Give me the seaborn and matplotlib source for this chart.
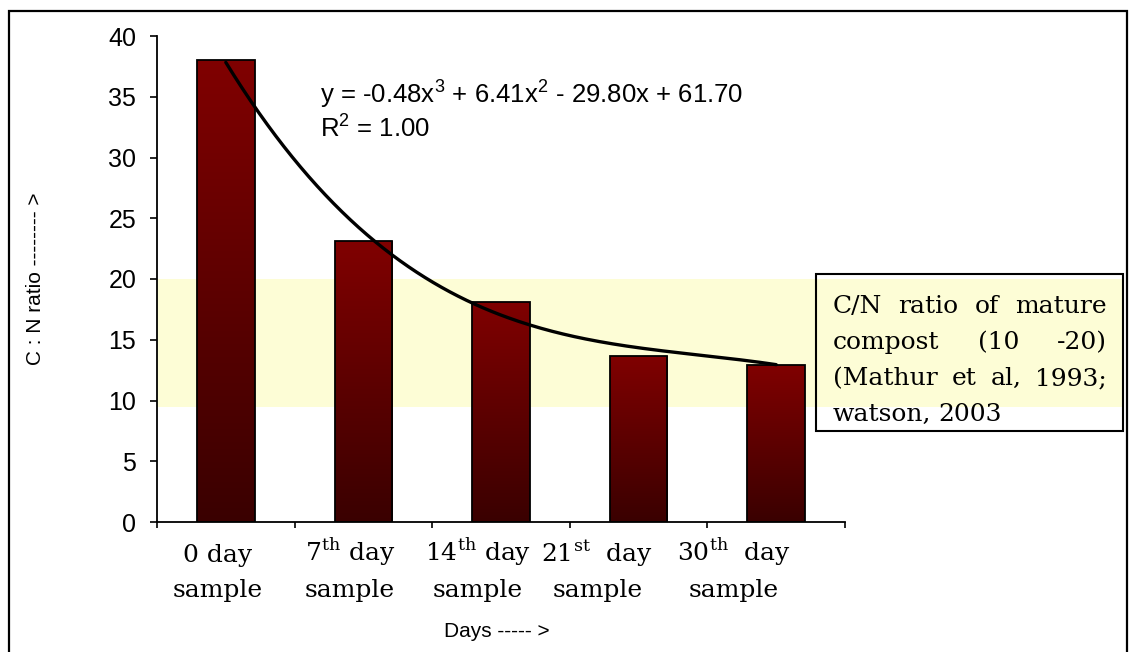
import numpy as np
import pandas as pd
import matplotlib
matplotlib.use("Agg")
import matplotlib.pyplot as plt
import matplotlib.transforms as mtransforms
import seaborn as sns
from matplotlib.patches import Rectangle

# data
days = ["0 day", "7th day", "14th day", "21st day", "30th day"]
label_top = ["0 day",
             "7$^{\\mathdefault{th}}$ day",
             "14$^{\\mathdefault{th}}$ day",
             "21$^{\\mathdefault{st}}$  day",
             "30$^{\\mathdefault{th}}$  day"]
label_bottom = ["sample"] * 5
cn_ratio = [38.0, 23.1, 18.1, 13.7, 12.9]
trend_coef = [-0.48, 6.41, -29.80, 61.70]   # cubic trendline from the chart label
mature_band = [9.5, 20.0]
note_lines = ["C/N ratio of mature", "compost (10 -20)",
              "(Mathur et al, 1993;", "watson, 2003"]

df = pd.DataFrame({"day": days, "ratio": cn_ratio})

sns.set_style("white")
plt.rcParams["font.family"] = ["Liberation Sans", "DejaVu Sans"]
plt.rcParams.update({"text.color": "black", "axes.labelcolor": "black",
                     "xtick.color": "black", "ytick.color": "black"})
SERIF = "DejaVu Serif"

W, H = 1130, 652
fig = plt.figure(figsize=(W / 100, H / 100), dpi=100)
ax = fig.add_axes([157 / W, 1 - 522 / H, 688 / W, (522 - 36) / H])

sns.barplot(data=df, x="day", y="ratio", color="#7a0000", width=0.42,
            edgecolor="black", linewidth=1.3, ax=ax, zorder=2)

# vertical gradient inside each bar (dark at the base, brighter maroon at the top)
grad_cmap = matplotlib.colors.LinearSegmentedColormap.from_list(
    "maroon", ["#3a0000", "#800000"])
grad = np.linspace(0, 1, 256).reshape(-1, 1)
for bar in list(ax.patches):
    x0, w, h = bar.get_x(), bar.get_width(), bar.get_height()
    im = ax.imshow(grad, cmap=grad_cmap, origin="lower", aspect="auto",
                   extent=(x0, x0 + w, 0, h), zorder=2.5)
    im.set_clip_path(bar)
    bar.set_facecolor("none")
    bar.set_zorder(3)

# light yellow band for the mature compost range, running out under the note box
ax.axhspan(mature_band[0], mature_band[1], xmin=0, xmax=(1123 - 157) / 688,
           color="#fdfdd6", zorder=0, clip_on=False, lw=0)

# trendline
xs = np.linspace(0, len(days) - 1, 200)
ax.plot(xs, np.polyval(trend_coef, xs + 1), color="black", lw=2.4, zorder=4)

ax.set_xlim(-0.5, len(days) - 0.5)
ax.set_ylim(0, 40)
ax.set_yticks(np.arange(0, 41, 5))
ax.tick_params(axis="y", direction="out", length=5, width=1.2, labelsize=18,
               left=True, pad=10)
ax.set_xticks(np.arange(-0.5, len(days)), labels=[""] * (len(days) + 1))
ax.tick_params(axis="x", which="major", direction="out", length=4, width=1.2,
               bottom=True)

# two-line serif category labels, placed like the original (shifted a bit left)
label_shift = [-0.06, -0.10, -0.17, -0.30, -0.31]
blend = mtransforms.blended_transform_factory(ax.transData, fig.transFigure)
for i in range(len(days)):
    ax.text(i + label_shift[i], 1 - 562 / H, label_top[i], transform=blend,
            family=SERIF, fontsize=18, ha="center", va="baseline")
    ax.text(i + label_shift[i], 1 - 597 / H, label_bottom[i], transform=blend,
            family=SERIF, fontsize=18, ha="center", va="baseline")

for side in ["top", "right"]:
    ax.spines[side].set_visible(False)
for side in ["left", "bottom"]:
    ax.spines[side].set_color("black")
    ax.spines[side].set_linewidth(1.3)

ax.set_xlabel("")
ax.set_ylabel("C : N ratio -------- >", fontsize=15)
ax.yaxis.set_label_coords((45 - 157) / 688, 0.5, transform=ax.transAxes)
fig.text(497 / W, 1 - 637 / H, "Days ----- >", fontsize=15, ha="center",
         va="baseline")

# trendline equation
fig.text(320 / W, 1 - 103 / H,
         "y = -0.48x$^{\\mathdefault{3}}$ + 6.41x$^{\\mathdefault{2}}$ - 29.80x + 61.70",
         fontsize=18.5, va="baseline", ha="left")
fig.text(320 / W, 1 - 137 / H, "R$^{\\mathdefault{2}}$ = 1.00",
         fontsize=18.5, va="baseline", ha="left")

# note box with justified serif text
fig.patches.append(Rectangle((816 / W, 1 - 431 / H), (1123 - 816) / W,
                             (431 - 274) / H, transform=fig.transFigure,
                             fill=False, edgecolor="black", lw=1.5, zorder=5))
renderer = fig.canvas.get_renderer()
left_px, right_px = 833, 1107
baselines = [313, 349, 385, 421]
for i, line in enumerate(note_lines):
    words = line.split(" ")
    texts = [fig.text(0, 1 - baselines[i] / H, wd, family=SERIF,
                      fontsize=18, va="baseline", ha="left", zorder=6)
             for wd in words]
    widths = [t.get_window_extent(renderer).width for t in texts]
    if i < len(note_lines) - 1 and len(words) > 1:
        gap = (right_px - left_px - sum(widths)) / (len(words) - 1)
    else:
        gap = 7
    x = left_px
    for t, wdt in zip(texts, widths):
        t.set_x(x / W)
        x += wdt + gap

# outer frame of the chart area
fig.patches.append(Rectangle((9 / W, -0.01), (1127 - 9) / W, 1.01 - 11 / H,
                             transform=fig.transFigure, fill=False,
                             edgecolor="black", lw=1.6))

fig.savefig("out.png", dpi=100)
